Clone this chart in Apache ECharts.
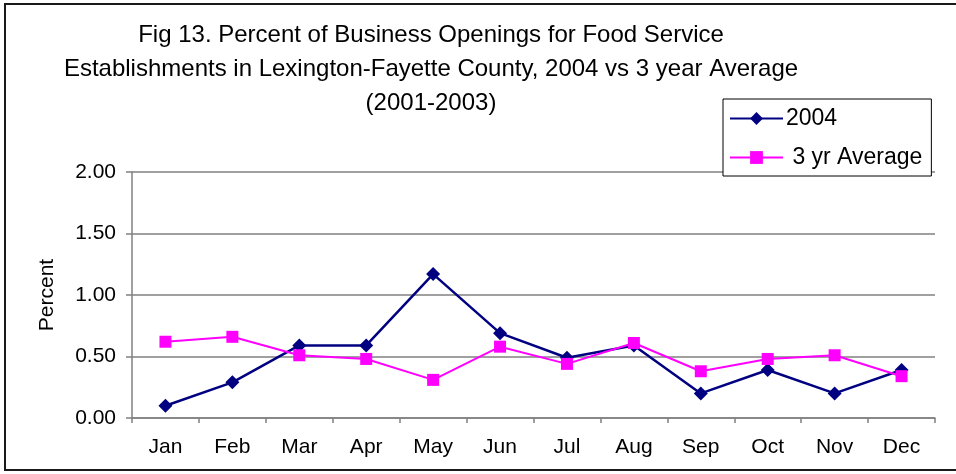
<!DOCTYPE html>
<html>
<head>
<meta charset="utf-8">
<script src="https://cdn.jsdelivr.net/npm/echarts@6/dist/echarts.min.js"></script>
<style>
html,body{margin:0;padding:0;background:#fff;}
#main{width:956px;height:474px;}
</style>
</head>
<body>
<div id="main"></div>
<script>
var titleLines = [
  'Fig 13. Percent of Business Openings for Food Service',
  'Establishments in Lexington-Fayette County, 2004 vs 3 year Average',
  '(2001-2003)'
];
var months = ['Jan','Feb','Mar','Apr','May','Jun','Jul','Aug','Sep','Oct','Nov','Dec'];
var values2004 = [0.10, 0.29, 0.59, 0.59, 1.17, 0.69, 0.49, 0.59, 0.20, 0.39, 0.20, 0.39];
var valuesAvg = [0.62, 0.66, 0.51, 0.48, 0.31, 0.58, 0.44, 0.61, 0.38, 0.48, 0.51, 0.34];
var yTicks = [0, 0.5, 1.0, 1.5, 2.0];
var seriesNames = ['2004', '3 yr Average'];
var yName = 'Percent';

var font = 'Liberation Sans, Arial, sans-serif';
var chart = echarts.init(document.getElementById('main'));
chart.setOption({
  animation: false,
  backgroundColor: '#fff',
  title: {
    text: titleLines.join('\n'),
    left: 431,
    top: 18,
    padding: 0,
    textAlign: 'center',
    textStyle: {fontFamily: font, fontSize: 24, fontWeight: 'normal', color: '#000', lineHeight: 34}
  },
  graphic: [{
    type: 'rect',
    shape: {x: 5, y: 4, width: 1000, height: 466},
    style: {fill: 'none', stroke: '#1a1a1a', lineWidth: 2},
    silent: true
  }],
  legend: {
    orient: 'vertical',
    left: 723,
    top: 99,
    padding: [8, 9, 7, 6],
    itemGap: 16,
    itemWidth: 53,
    itemHeight: 16,
    borderColor: '#000',
    borderWidth: 1,
    backgroundColor: '#fff',
    formatter: function (n) { return n === seriesNames[1] ? ' ' + n : n; },
    textStyle: {fontFamily: font, fontSize: 23, color: '#000', padding: [0, 0, 0, -2]},
    data: seriesNames
  },
  grid: {left: 132, right: 21, top: 172, bottom: 56},
  xAxis: {
    type: 'category',
    data: months,
    boundaryGap: true,
    axisLine: {lineStyle: {color: '#808080', width: 1.5}},
    axisTick: {show: true, length: 5, lineStyle: {color: '#808080', width: 1.5}},
    axisLabel: {fontFamily: font, fontSize: 21, color: '#000', margin: 19}
  },
  yAxis: {
    type: 'value',
    min: yTicks[0],
    max: yTicks[yTicks.length - 1],
    interval: 0.5,
    name: yName,
    nameLocation: 'middle',
    nameRotate: 90,
    nameGap: 74,
    nameTextStyle: {fontFamily: font, fontSize: 21, color: '#000'},
    axisLine: {show: true, lineStyle: {color: '#808080', width: 1.5}},
    axisTick: {show: true, length: 6, lineStyle: {color: '#808080', width: 1.5}},
    axisLabel: {fontFamily: font, fontSize: 21, color: '#000', margin: 16,
      formatter: function (v) { return v.toFixed(2); }},
    splitLine: {show: true, lineStyle: {color: '#808080', width: 1.5}}
  },
  series: [{
    name: seriesNames[0],
    type: 'line',
    data: values2004,
    symbol: 'diamond',
    symbolSize: 14,
    itemStyle: {color: '#000080'},
    lineStyle: {color: '#000080', width: 2.5},
    z: 3
  }, {
    name: seriesNames[1],
    type: 'line',
    data: valuesAvg,
    symbol: 'rect',
    symbolSize: 12,
    itemStyle: {color: '#FF00FF'},
    lineStyle: {color: '#FF00FF', width: 2},
    z: 4
  }]
});
</script>
</body>
</html>
